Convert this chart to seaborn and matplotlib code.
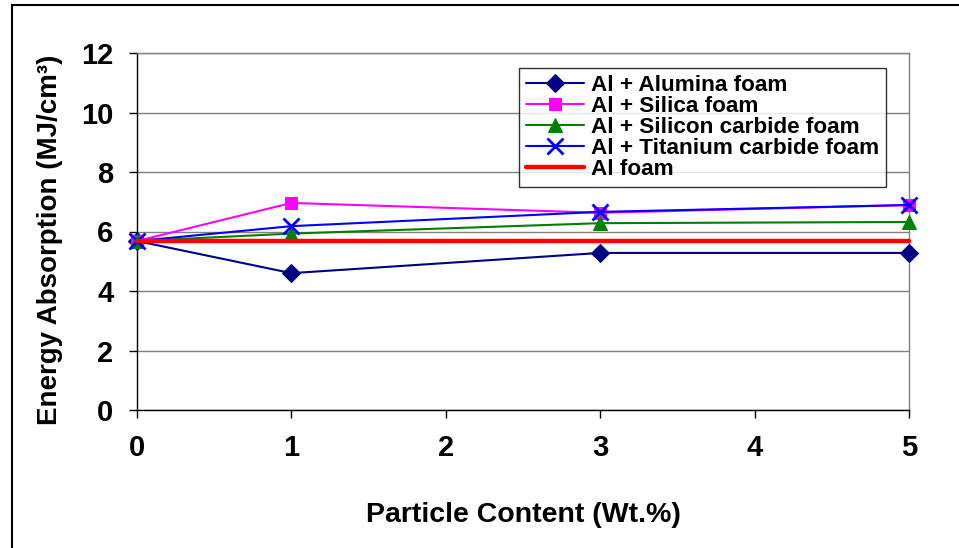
import matplotlib
matplotlib.use("Agg")
import matplotlib.pyplot as plt
import seaborn as sns
import pandas as pd
from matplotlib.patches import Rectangle

# Energy absorption of aluminium foams vs. particle content
content = [0, 1, 3, 5]
alumina = [5.68, 4.60, 5.28, 5.28]
silica = [5.68, 6.96, 6.63, 6.89]
silicon_carbide = [5.68, 5.93, 6.28, 6.32]
titanium_carbide = [5.68, 6.18, 6.66, 6.89]
al_foam = [5.68, 5.68, 5.68, 5.68]

series_names = [
    "Al + Alumina foam",
    "Al + Silica foam",
    "Al + Silicon carbide foam",
    "Al + Titanium carbide foam",
    "Al foam",
]
x_ticks = [0, 1, 2, 3, 4, 5]
y_ticks = [0, 2, 4, 6, 8, 10, 12]

sns.set_theme(style="white")
plt.rcParams["font.family"] = ["Liberation Sans", "DejaVu Sans"]
plt.rcParams["font.weight"] = "bold"
for key in ["text.color", "axes.labelcolor", "xtick.color", "ytick.color"]:
    plt.rcParams[key] = "black"

fig = plt.figure(figsize=(9.59, 5.48), dpi=100)
ax = fig.add_axes([137 / 959, 1 - 410 / 548, (909 - 137) / 959, (410 - 53) / 548])

styles = [
    (alumina, "#000080", "D", 9, 1.5),
    (silica, "#FF00FF", "s", 9, 1.5),
    (silicon_carbide, "#008000", "^", 10, 1.5),
    (titanium_carbide, "#0000FF", "x", 11, 1.5),
    (al_foam, "#FF0000", None, 0, 3.2),
]

for name, (vals, color, marker, ms, lw) in zip(series_names, styles):
    df = pd.DataFrame({"x": content, "y": vals})
    kw = dict(marker=marker, markersize=ms, markeredgecolor=color,
              markerfacecolor=color) if marker else dict()
    if marker == "x":
        kw["markeredgewidth"] = 2
    sns.lineplot(data=df, x="x", y="y", ax=ax, color=color, linewidth=lw,
                 label=name, clip_on=False, zorder=3, **kw)

ax.set_xlim(0, 5)
ax.set_ylim(0, 12)
ax.set_xticks(x_ticks)
ax.set_yticks(y_ticks)
ax.tick_params(axis="both", which="major", labelsize=21, direction="out",
               length=6, width=1, color="black", bottom=True, left=True)
ax.tick_params(axis="y", pad=11)
ax.tick_params(axis="x", pad=11)
for lbl in ax.get_xticklabels() + ax.get_yticklabels():
    lbl.set_fontweight("bold")

ax.yaxis.grid(True, color="#808080", linewidth=1)
ax.xaxis.grid(False)
ax.set_axisbelow(True)

for side in ["left", "bottom"]:
    ax.spines[side].set_color("black")
    ax.spines[side].set_linewidth(1)
for side in ["top", "right"]:
    ax.spines[side].set_visible(True)
    ax.spines[side].set_color("#808080")
    ax.spines[side].set_linewidth(1)

ax.set_xlabel("Particle Content (Wt.%)", fontsize=20.5, fontweight="bold")
ax.set_ylabel("Energy Absorption (MJ/cm³)", fontsize=20, fontweight="bold")
ax.xaxis.set_label_coords(0.5, (410 - 515) / 357, transform=ax.transAxes)
ax.yaxis.set_label_coords((50 - 137) / 772, 1 - (240 - 53) / 357, transform=ax.transAxes)
ax.xaxis.label.set_va("center")
ax.yaxis.label.set_va("center")

leg = ax.legend(loc="upper left", bbox_to_anchor=((519 - 137) / 772, (410 - 68) / 357),
                fontsize=16.2, frameon=True, fancybox=False, handlelength=2.6,
                handletextpad=0.3, labelspacing=0.0, borderpad=0.3,
                borderaxespad=0)
leg.get_frame().set_edgecolor("black")
leg.get_frame().set_linewidth(1)
for t in leg.get_texts():
    t.set_fontweight("bold")

# Outer chart border
fig.patches.append(Rectangle((12 / 959, -0.1), 1.2, 1.1 - 5 / 548,
                             transform=fig.transFigure, fill=False,
                             edgecolor="black", linewidth=1.5))

fig.savefig("out.png", dpi=100)
